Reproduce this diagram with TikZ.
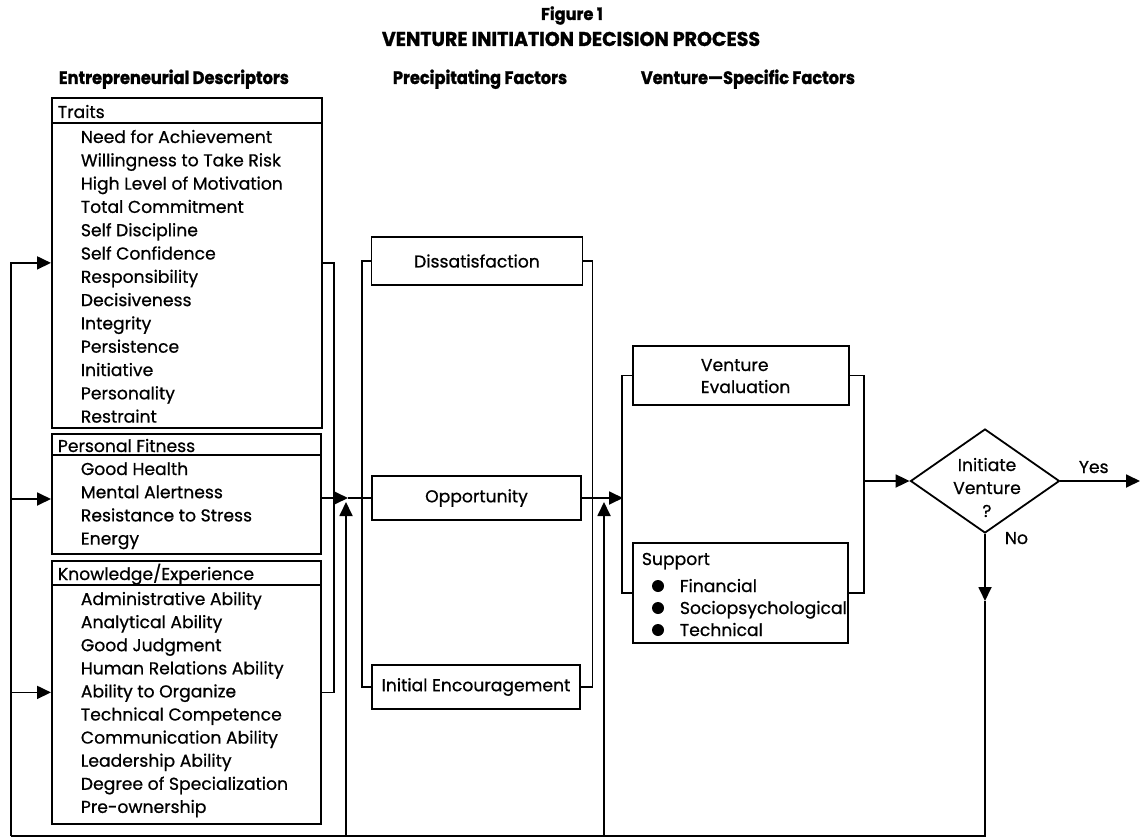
\documentclass[tikz,border=0pt]{standalone}
\usepackage{fontspec}
\setmainfont{Poppins}[FakeBold=0.7]
\newfontfamily\headfont{Poppins}[FakeStretch=0.9, FakeBold=1.2]
\newfontfamily\titlefont{Poppins}[FakeStretch=0.95, FakeBold=1.2]
\usetikzlibrary{arrows.meta,shapes.geometric}

\begin{document}
\begin{tikzpicture}[x=1pt,y=-1pt,
  line width=1.8pt,
  every node/.style={inner sep=0pt},
  bodyfont/.style={font=\fontsize{17.2}{22}\selectfont},
  body/.style={bodyfont, anchor=base west},
  head/.style={font=\headfont\bfseries\fontsize{18}{22}\selectfont},
  frame/.style={draw, anchor=north west},
  factor/.style={draw, bodyfont},
  dot/.style={circle, fill, minimum size=12pt},
  tip/.style={-{Triangle[length=14pt,width=13pt]}},
]
\useasboundingbox (0,0) rectangle (1141,840);

% titles and column headings
\node[anchor=base, font=\titlefont\bfseries\fontsize{17}{20}\selectfont] (fig) at (572,20) {Figure 1};
\node[anchor=base, font=\titlefont\bfseries\fontsize{20}{24}\selectfont] (ttl) at (571,46) {VENTURE INITIATION DECISION PROCESS};
\node[head, anchor=base west] (hd1) at (58,84) {Entrepreneurial Descriptors};
\node[head, anchor=base west] (hd2) at (392,84) {Precipitating Factors};
\node[head, anchor=base west] (hd3) at (640,84) {Venture—Specific Factors};

% entrepreneurial descriptors
\node[frame, minimum width=270pt, minimum height=330pt] (traits) at (51,97) {};
\draw ([yshift=-26pt]traits.north west) -- ([yshift=-26pt]traits.north east);
\node[body] (traitsT) at (57,118) {Traits};
\foreach \t [count=\i] in {Need for Achievement, Willingness to Take Risk,
  High Level of Motivation, Total Commitment, Self Discipline, Self Confidence,
  Responsibility, Decisiveness, Integrity, Persistence, Initiative,
  Personality, Restraint}
  \node[body] (tr\i) at (80,{143+23.3*(\i-1)}) {\t};

\node[frame, minimum width=269pt, minimum height=120pt] (fit) at (51,433) {};
\draw ([yshift=-22pt]fit.north west) -- ([yshift=-22pt]fit.north east);
\node[body] (fitT) at (57,452) {Personal Fitness};
\foreach \t [count=\i] in {Good Health, Mental Alertness, Resistance to Stress, Energy}
  \node[body] (pf\i) at (80,{475+23.2*(\i-1)}) {\t};

\node[frame, minimum width=269pt, minimum height=263pt] (know) at (51,560) {};
\draw ([yshift=-25pt]know.north west) -- ([yshift=-25pt]know.north east);
\node[body] (knowT) at (57,580) {Knowledge/Experience};
\foreach \t [count=\i] in {Administrative Ability, Analytical Ability, Good Judgment,
  Human Relations Ability, Ability to Organize, Technical Competence,
  Communication Ability, Leadership Ability, Degree of Specialization, Pre-ownership}
  \node[body] (ke\i) at (80,{605+23.1*(\i-1)}) {\t};

\draw (traits.east) -- ++(11,0) |- (know.east);

% precipitating factors
\node[factor, minimum width=211pt, minimum height=48pt] (dis) at (477,261) {Dissatisfaction};
\node[factor, minimum width=209pt, minimum height=44pt] (opp) at (476.5,498) {Opportunity};
\node[factor, minimum width=208pt, minimum height=44pt] (enc) at (476,687) {Initial Encouragement};
\draw (dis.west) -- ++(-9,0) |- (enc.west);
\draw (dis.east) -- ++(9,0) |- (enc.east);

% venture-specific factors
\node[draw, minimum width=216pt, minimum height=59pt] (ve) at (741,375.5) {};
\node[body] (ve1) at (700,371) {Venture};
\node[body] (ve2) at (700,393) {Evaluation};
\node[draw, minimum width=215pt, minimum height=100pt] (sup) at (740.5,593) {};
\node[body] (supT) at (641,565) {Support};
\node[dot] (d1) at (658,586) {};
\node[dot] (d2) at (658,608) {};
\node[dot] (d3) at (658,630) {};
\node[body] (s1) at (679,592) {Financial};
\node[body] (s2) at (679,614) {Sociopsychological};
\node[body] (s3) at (679,636) {Technical};
\draw (ve.west) -- ++(-10,0) |- (sup.west);
\draw (ve.east) -- ++(14,0) |- (sup.east);

% decision
\node[draw, diamond, minimum width=149pt, minimum height=104pt] (dia) at (985,481) {};
\node[bodyfont, anchor=base] (q1) at (987,471) {Initiate};
\node[bodyfont, anchor=base] (q2) at (987,494) {Venture};
\node[bodyfont, anchor=base] (q3) at (987,517) {?};
\node[body] (yes) at (1078,473) {Yes};
\node[body] (no) at (1004,544) {No};

% forward flow
\coordinate (j1) at (348,498);
\coordinate (j2) at (623,498);
\coordinate (vout) at (863,481);
\coordinate (yesend) at (1140,481);
\draw[tip] (fit.east |- j1) -- (j1);
\draw (j1) -- (opp.west);
\draw[tip] (opp.east) -- (j2);
\draw[tip] (vout) -- (dia.west);
\draw[tip] (dia.east) -- (yesend);

% feedback loop
\coordinate (nodown) at (985,601);
\coordinate (fbR) at (985,836);
\coordinate (fbL) at (11,836);
\coordinate (fbP) at (11,499);
\coordinate (r1) at (346,836);
\coordinate (r1t) at (346,502);
\coordinate (r2) at (604,836);
\coordinate (r2t) at (604,502);
\draw[tip] (dia.south) -- (nodown);
\draw (nodown) -- (fbR) -- (fbL);
\draw[tip] (fbL) |- (traits.west);
\draw[tip] (fbP) -- (fit.west |- fbP);
\draw[tip] (fbL |- know.west) -- (know.west);
\draw[tip] (r1) -- (r1t);
\draw[tip] (r2) -- (r2t);
\end{tikzpicture}
\end{document}
